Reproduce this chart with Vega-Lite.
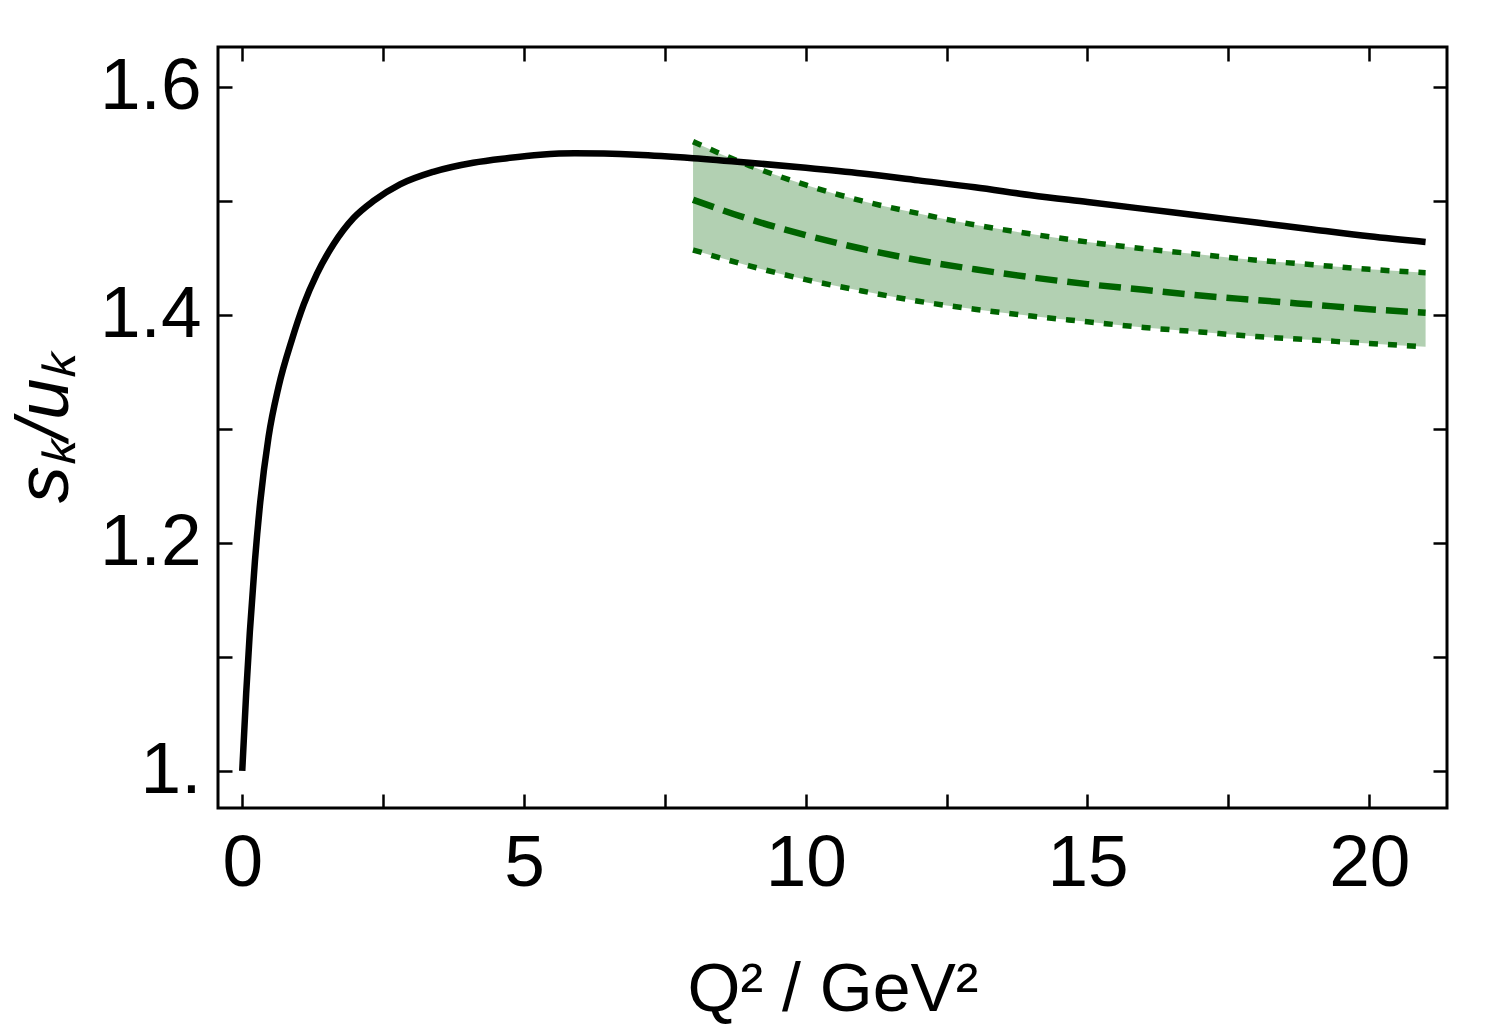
{
  "$schema": "https://vega.github.io/schema/vega-lite/v6.json",
  "width": 1229,
  "height": 761,
  "autosize": "none",
  "padding": {"left": 218, "top": 47, "right": 41, "bottom": 223},
  "background": "white",
  "config": {
    "font": "Liberation Sans",
    "view": {"stroke": "black", "strokeWidth": 3},
    "axis": {
      "domain": false,
      "grid": false,
      "ticks": true,
      "tickColor": "black",
      "tickWidth": 2.5,
      "tickSize": -14,
      "labelFont": "Liberation Sans",
      "labelFontSize": 73,
      "labelColor": "black",
      "titleFont": "Liberation Sans",
      "titleFontSize": 68,
      "titleFontWeight": "normal",
      "titleColor": "black"
    }
  },
  "datasets": {
    "curve": [
      {"q2": 0.0, "r": 1.0},
      {"q2": 0.07, "r": 1.068},
      {"q2": 0.135, "r": 1.122},
      {"q2": 0.225, "r": 1.184},
      {"q2": 0.32, "r": 1.236},
      {"q2": 0.467, "r": 1.293},
      {"q2": 0.645, "r": 1.337},
      {"q2": 0.88, "r": 1.378},
      {"q2": 1.09, "r": 1.409},
      {"q2": 1.325, "r": 1.436},
      {"q2": 1.62, "r": 1.462},
      {"q2": 1.975, "r": 1.485},
      {"q2": 2.33, "r": 1.5},
      {"q2": 2.8, "r": 1.5145},
      {"q2": 3.39, "r": 1.5255},
      {"q2": 4.1, "r": 1.5335},
      {"q2": 4.7, "r": 1.5375},
      {"q2": 5.29, "r": 1.5405},
      {"q2": 5.9, "r": 1.5418},
      {"q2": 7.0, "r": 1.5405},
      {"q2": 8.0, "r": 1.5375},
      {"q2": 9.0, "r": 1.5335},
      {"q2": 10.0, "r": 1.529},
      {"q2": 11.0, "r": 1.524},
      {"q2": 12.0, "r": 1.518},
      {"q2": 13.0, "r": 1.512},
      {"q2": 14.0, "r": 1.505},
      {"q2": 15.0, "r": 1.499},
      {"q2": 16.0, "r": 1.493},
      {"q2": 17.0, "r": 1.487},
      {"q2": 18.0, "r": 1.481},
      {"q2": 19.0, "r": 1.475},
      {"q2": 20.0, "r": 1.469},
      {"q2": 21.0, "r": 1.464}
    ],
    "band": [
      {"q2": 8, "lo": 1.457, "mid": 1.501, "hi": 1.552},
      {"q2": 9, "lo": 1.443, "mid": 1.484, "hi": 1.531},
      {"q2": 10, "lo": 1.431, "mid": 1.47, "hi": 1.514},
      {"q2": 11, "lo": 1.421, "mid": 1.458, "hi": 1.5},
      {"q2": 12, "lo": 1.412, "mid": 1.448, "hi": 1.489},
      {"q2": 13, "lo": 1.405, "mid": 1.44, "hi": 1.479},
      {"q2": 14, "lo": 1.399, "mid": 1.433, "hi": 1.471},
      {"q2": 15, "lo": 1.394, "mid": 1.427, "hi": 1.464},
      {"q2": 16, "lo": 1.389, "mid": 1.422, "hi": 1.458},
      {"q2": 17, "lo": 1.385, "mid": 1.417, "hi": 1.453},
      {"q2": 18, "lo": 1.381, "mid": 1.413, "hi": 1.448},
      {"q2": 19, "lo": 1.378, "mid": 1.409, "hi": 1.444},
      {"q2": 20, "lo": 1.375, "mid": 1.405, "hi": 1.44},
      {"q2": 21, "lo": 1.372, "mid": 1.402, "hi": 1.437}
    ]
  },
  "layer": [
    {
      "data": {"name": "band"},
      "mark": {"type": "area", "color": "#006400", "opacity": 0.3, "interpolate": "monotone"},
      "encoding": {
        "x": {
          "field": "q2", "type": "quantitative",
          "scale": {"domain": [-0.43, 21.38], "nice": false, "zero": false},
          "axis": {
            "orient": "bottom",
            "values": [0, 2.5, 5, 7.5, 10, 12.5, 15, 17.5, 20],
            "labelExpr": "datum.value % 5 == 0 ? format(datum.value, 'd') : ''",
            "labelPadding": 33,
            "title": "Q²  /  GeV²",
            "titlePadding": 56
          }
        },
        "y": {
          "field": "lo", "type": "quantitative",
          "scale": {"domain": [0.9675, 1.635], "nice": false, "zero": false},
          "axis": {
            "orient": "left",
            "values": [1.0, 1.1, 1.2, 1.3, 1.4, 1.5, 1.6],
            "labelExpr": "round(datum.value * 10) % 2 == 0 ? (round(datum.value * 10) == 10 ? '1.' : format(datum.value, '.1f')) : ''",
            "labelPadding": 31,
            "title": "sₖ/uₖ",
            "titleFontSize": 74,
            "titleFontStyle": "italic",
            "titlePadding": 16
          }
        },
        "y2": {"field": "hi"}
      }
    },
    {
      "data": {"name": "band"},
      "mark": {"type": "line", "color": "#006400", "strokeWidth": 5.5, "strokeDash": [9, 10], "interpolate": "monotone"},
      "encoding": {
        "x": {"field": "q2", "type": "quantitative", "axis": {"orient": "top", "values": [0, 2.5, 5, 7.5, 10, 12.5, 15, 17.5, 20], "labels": false, "title": null}},
        "y": {"field": "hi", "type": "quantitative", "axis": {"orient": "right", "values": [1.0, 1.1, 1.2, 1.3, 1.4, 1.5, 1.6], "labels": false, "title": null}}
      }
    },
    {
      "data": {"name": "band"},
      "mark": {"type": "line", "color": "#006400", "strokeWidth": 5.5, "strokeDash": [9, 10], "interpolate": "monotone"},
      "encoding": {
        "x": {"field": "q2", "type": "quantitative", "axis": null},
        "y": {"field": "lo", "type": "quantitative", "axis": null}
      }
    },
    {
      "data": {"name": "band"},
      "mark": {"type": "line", "color": "#006400", "strokeWidth": 6.5, "strokeDash": [22, 10], "interpolate": "monotone"},
      "encoding": {
        "x": {"field": "q2", "type": "quantitative", "axis": null},
        "y": {"field": "mid", "type": "quantitative", "axis": null}
      }
    },
    {
      "data": {"name": "curve"},
      "mark": {"type": "line", "color": "black", "strokeWidth": 6.5, "interpolate": "monotone"},
      "encoding": {
        "x": {"field": "q2", "type": "quantitative", "axis": null},
        "y": {"field": "r", "type": "quantitative", "axis": null}
      }
    }
  ]
}
